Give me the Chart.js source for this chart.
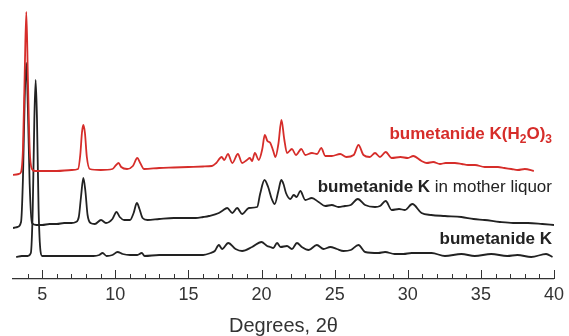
<!DOCTYPE html>
<html>
<head>
<meta charset="utf-8">
<script src="https://cdn.jsdelivr.net/npm/chart.js@4"></script>
<style>
  html, body { margin: 0; padding: 0; background: #fff; }
  #wrap { width: 569px; height: 336px; }
</style>
</head>
<body>
<div id="wrap"><canvas id="pxrd"></canvas></div>
<script>
// PXRD patterns, 2theta (deg) vs. offset intensity (arb. units)

const hydrateTheta = [3.0, 3.4, 3.55, 3.68, 3.8, 3.91, 4.02, 4.14, 4.3, 4.5, 5, 6, 7, 7.45, 7.6, 7.72, 7.81, 7.92, 8.05, 8.25, 9, 9.8,
  10.05, 10.22, 10.4, 10.8, 11.2, 11.5, 11.7, 11.97, 13, 14, 15, 16, 16.6, 16.9, 17.27, 17.45, 17.7, 18.0, 18.38, 18.67,
  19.0, 19.2, 19.35, 19.54, 19.81, 20.05, 20.22, 20.4, 20.6, 20.8, 20.95, 21.15, 21.36, 21.55, 21.74, 22.08, 22.35, 22.72,
  22.99, 23.44, 23.8, 24.08, 24.36, 24.8, 25.38, 25.8, 26.3, 26.63, 26.97, 27.4, 27.76, 28.1, 28.49, 28.9, 29.5, 30.0,
  30.38, 30.94, 31.3, 31.74, 32.2, 32.6, 33.22, 33.7, 34.12, 34.6, 35.26, 35.7, 36.17, 36.6, 37.08, 37.53, 38.0, 38.62];
const hydrateCounts = [104, 105, 107, 130, 205, 267, 200, 130, 110, 108, 108, 108, 109, 110, 124, 147, 154, 146, 122, 110, 109, 110,
  114, 116, 112, 110, 113, 121, 116, 110, 111, 111.5, 112, 112.5, 113, 116, 122, 119, 125, 116, 125, 116,
  119, 121, 118, 126, 119, 130, 144, 138, 136, 128, 122, 135, 159, 140, 126, 130, 124, 130,
  124, 126, 125, 131, 123, 123, 125, 122, 124, 134, 124, 122, 126, 122, 127, 121, 122, 121,
  123, 118, 116, 117, 115, 116, 116, 115, 114, 114, 112, 112, 112, 111, 110, 109, 110, 108];

const liquorTheta = [3.0, 3.3, 3.55, 3.68, 3.8, 3.91, 4.02, 4.14, 4.3, 4.6, 5, 5.5, 6, 6.5, 7.0, 7.3, 7.5, 7.65, 7.81, 7.95, 8.1,
  8.3, 8.6, 9.02, 9.36, 9.8, 10.08, 10.3, 10.6, 11.0, 11.25, 11.47, 11.65, 11.86, 12.2, 13, 14, 15, 15.5, 16.0, 16.4,
  17.08, 17.3, 17.65, 18.0, 18.33, 18.67, 19.13, 19.7, 19.9, 20.2, 20.45, 20.7, 20.9, 21.15, 21.35, 21.5, 21.67, 21.97,
  22.2, 22.4, 22.65, 22.99, 23.44, 23.9, 24.36, 24.8, 25.26, 25.7, 26.1, 26.58, 27.08, 27.76, 28.1, 28.49, 28.9, 29.4,
  29.81, 30.31, 30.94, 31.6, 32.54, 33.67, 34.5, 35.26, 36.3, 37.2, 38.22, 39.2, 40.0];
const liquorCounts = [51, 52, 57, 100, 180, 216, 170, 95, 56, 54, 54, 55, 55, 56, 56, 57, 62, 82, 101, 88, 64,
  56, 55, 59, 56, 60, 67, 62, 59, 59, 66, 76, 70, 61, 59, 60, 61, 61, 61, 62, 63,
  66, 68, 71, 66, 71, 65, 71, 72, 85, 99, 92, 80, 75, 88, 99, 95, 86, 80,
  84, 82, 88, 79, 81, 77, 73, 74, 72, 73, 74, 80, 74, 72, 73, 78, 69, 70,
  69, 75, 66, 64, 63, 62, 60, 59, 57, 56, 56, 55, 54];

const saltTheta = [3.22, 3.6, 4.0, 4.22, 4.35, 4.46, 4.55, 4.64, 4.75, 4.88, 5.0, 5.5, 6.5, 7.5, 8.5, 8.9, 9.13, 9.4, 9.8, 10.15,
  10.5, 11.0, 11.5, 11.81, 12.0, 13, 14, 15, 16, 16.52, 16.8, 17.08, 17.3, 17.72, 18.22, 18.67, 19.35, 19.99, 20.38,
  20.6, 20.8, 21.06, 21.3, 21.74, 22.08, 22.42, 22.75, 23.22, 23.78, 24.24, 24.7, 25.15, 25.6, 26.1, 26.63, 27.08,
  27.99, 28.45, 29.1, 29.7, 30.26, 30.9, 31.63, 32.54, 33.67, 34.58, 35.71, 36.8, 37.5, 38.44, 39.46, 39.9];
const saltCounts = [22, 23, 23, 26, 70, 160, 199, 160, 70, 28, 23, 23, 23, 23, 23, 24, 26, 23, 24, 27,
  25, 24, 24, 26, 23, 24, 24, 24, 24, 26, 28, 34, 30, 36, 30, 28, 32, 37, 33,
  32, 31, 36, 32, 33, 30, 36, 32, 29, 34, 30, 32, 30, 28, 29, 34, 27,
  26, 27, 25, 25, 26, 26, 26, 23, 25, 23, 25, 23, 24, 22, 25, 22];

const xMin = 3, xMax = 40;
const yMin = 0, yMax = 279;

const RED = '#d62d2a';
const DARK = '#222222';

Chart.defaults.font.family = '"Liberation Sans", Arial, sans-serif';

function toPoints(xs, ys) {
  return xs.map((x, i) => ({ x: x, y: ys[i] }));
}

// trace labels: pieces of text, placed right-aligned at a 2theta/intensity anchor
const traceLabels = [
  { at: [40, 140], color: RED, parts: [
    { t: 'bumetanide K(H', bold: true }, { t: '2', bold: true, sub: true },
    { t: 'O)', bold: true }, { t: '3', bold: true, sub: true }] },
  { at: [40, 87.5], color: DARK, parts: [
    { t: 'bumetanide K', bold: true }, { t: ' in mother liquor', bold: false }] },
  { at: [40, 35.5], color: DARK, parts: [
    { t: 'bumetanide K', bold: true }] }
];

const decorPlugin = {
  id: 'decor',
  afterDraw(chart) {
    const ctx = chart.ctx;
    const xs = chart.scales.x;
    const ys = chart.scales.y;
    // ticks point upward from the axis line
    ctx.save();
    ctx.strokeStyle = '#333';
    ctx.lineWidth = 1;
    const y0 = xs.top;
    xs.ticks.forEach(t => {
      if (t.value <= xMin) return;
      const px = Math.round(xs.getPixelForValue(t.value)) + 0.5;
      const len = t.value % 5 === 0 ? 9 : 5;
      ctx.beginPath();
      ctx.moveTo(px, y0);
      ctx.lineTo(px, y0 - len);
      ctx.stroke();
    });
    ctx.restore();

    // labels
    traceLabels.forEach(lab => {
      ctx.save();
      ctx.fillStyle = lab.color;
      ctx.textBaseline = 'alphabetic';
      const fontOf = p => (p.bold ? 'bold ' : '') + (p.sub ? 12 : 17) + 'px "Liberation Sans", Arial, sans-serif';
      let total = 0;
      lab.parts.forEach(p => { ctx.font = fontOf(p); total += ctx.measureText(p.t).width; });
      let x = xs.getPixelForValue(lab.at[0]) - 2 - total;
      const y = ys.getPixelForValue(lab.at[1]);
      lab.parts.forEach(p => {
        ctx.font = fontOf(p);
        ctx.fillText(p.t, x, p.sub ? y + 4 : y);
        x += ctx.measureText(p.t).width;
      });
      ctx.restore();
    });
  }
};

new Chart(document.getElementById('pxrd'), {
  type: 'line',
  data: {
    datasets: [
      { label: 'bumetanide K(H2O)3', data: toPoints(hydrateTheta, hydrateCounts), borderColor: RED },
      { label: 'bumetanide K in mother liquor', data: toPoints(liquorTheta, liquorCounts), borderColor: DARK },
      { label: 'bumetanide K', data: toPoints(saltTheta, saltCounts), borderColor: DARK }
    ]
  },
  options: {
    responsive: true,
    maintainAspectRatio: false,
    animation: false,
    parsing: false,
    layout: { padding: { left: 13, right: 13, top: 0, bottom: 0 } },
    elements: {
      line: { borderWidth: 1.8, cubicInterpolationMode: 'monotone', fill: false },
      point: { radius: 0 }
    },
    plugins: {
      legend: { display: false },
      tooltip: { enabled: false }
    },
    scales: {
      x: {
        type: 'linear',
        position: 'bottom',
        min: xMin,
        max: xMax,
        afterFit(scale) { scale.height = 57; },
        grid: { display: false, drawTicks: false },
        border: { display: true, color: '#333', width: 1.3 },
        ticks: {
          stepSize: 1,
          autoSkip: false,
          maxRotation: 0,
          padding: 5,
          color: '#333',
          font: { size: 18 },
          callback: v => (v % 5 === 0 ? String(v) : '')
        },
        title: {
          display: true,
          text: 'Degrees, 2θ',
          color: '#333',
          font: { size: 20, lineHeight: 1 },
          padding: { top: 0, bottom: 0 }
        }
      },
      y: {
        display: false,
        min: yMin,
        max: yMax
      }
    }
  },
  plugins: [decorPlugin]
});
</script>
</body>
</html>
